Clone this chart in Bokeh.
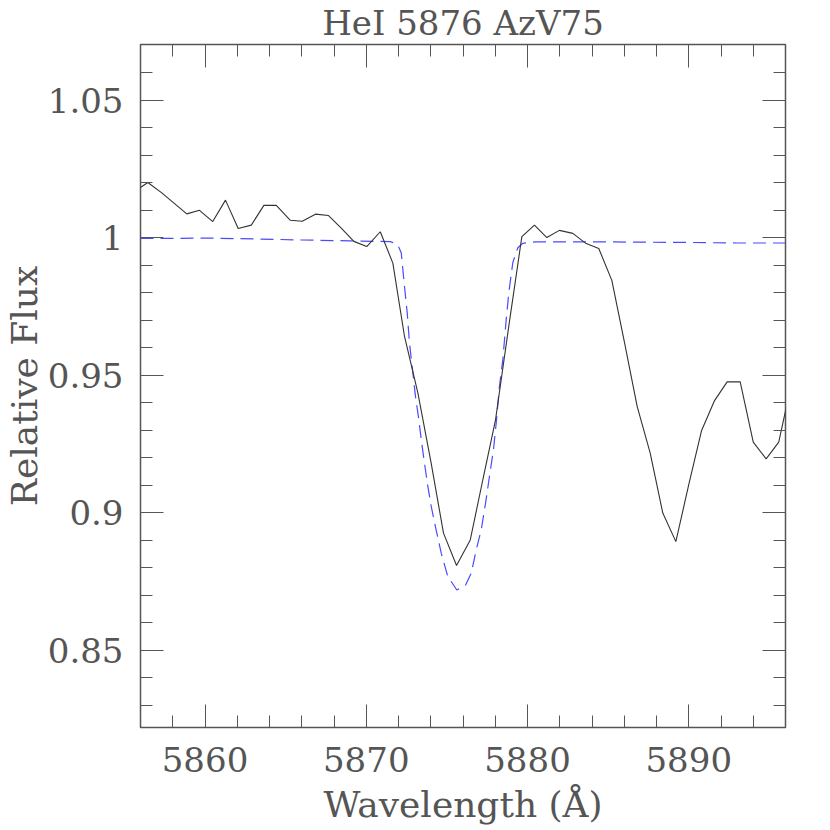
from bokeh.plotting import figure
from bokeh.models import FixedTicker, LinearAxis, CustomJSTickFormatter, Range1d
from bokeh.embed import file_html
from bokeh.resources import INLINE

# Observed spectrum (wavelength in Angstrom, relative flux)
obs_wave = [5856.00, 5856.45, 5857.28, 5858.87, 5859.66, 5860.48, 5861.27, 5862.06,
            5862.87, 5863.65, 5864.42, 5865.28, 5866.03, 5866.85, 5867.66, 5868.45,
            5869.23, 5870.03, 5870.87, 5871.65, 5872.37, 5873.20, 5874.02, 5874.79,
            5875.60, 5876.45, 5877.23, 5878.02, 5878.84, 5879.65, 5880.43, 5881.20,
            5881.98, 5882.81, 5883.64, 5884.42, 5885.23, 5886.02, 5886.80, 5887.61,
            5888.39, 5889.20, 5890.00, 5890.79, 5891.60, 5892.38, 5893.19, 5894.00,
            5894.80, 5895.58, 5896.37]
obs_flux = [1.0183, 1.0201, 1.0165, 1.0087, 1.0100, 1.0059, 1.0137, 1.0034,
            1.0046, 1.0118, 1.0118, 1.0064, 1.0060, 1.0086, 1.0081, 1.0035,
            0.9987, 0.9968, 1.0022, 0.9908, 0.9642, 0.9436, 0.9182, 0.8926,
            0.8808, 0.8901, 0.9120, 0.9339, 0.9679, 1.0004, 1.0046, 1.0001,
            1.0027, 1.0016, 0.9979, 0.9961, 0.9845, 0.9618, 0.9387, 0.9217,
            0.8999, 0.8895, 0.9102, 0.9298, 0.9408, 0.9476, 0.9476, 0.9257,
            0.9196, 0.9257, 0.9470]

# Model fit
model_wave = [5856.00, 5858.00, 5860.00, 5863.00, 5866.00, 5869.00, 5871.50, 5871.95,
              5872.17, 5872.37, 5872.54, 5872.68, 5872.89, 5873.05, 5873.26, 5873.41,
              5873.61, 5873.82, 5874.03, 5874.29, 5874.65, 5875.06, 5875.62, 5876.16,
              5876.51, 5876.82, 5877.13, 5877.40, 5877.64, 5877.89, 5878.06, 5878.26,
              5878.47, 5878.68, 5878.84, 5879.09, 5879.40, 5879.71, 5880.50, 5885.00,
              5890.00, 5893.00, 5896.00]
model_flux = [0.9998, 0.9998, 0.9999, 0.9996, 0.9992, 0.9989, 0.9986, 0.9975,
              0.9946, 0.9824, 0.9727, 0.9618, 0.9509, 0.9424, 0.9339, 0.9266,
              0.9181, 0.9096, 0.9023, 0.8950, 0.8853, 0.8768, 0.8719, 0.8737,
              0.8780, 0.8865, 0.8938, 0.9035, 0.9132, 0.9229, 0.9327, 0.9460,
              0.9557, 0.9703, 0.9800, 0.9910, 0.9964, 0.9980, 0.9985, 0.9985,
              0.9983, 0.9981, 0.9981]

x_major = [5860, 5870, 5880, 5890]
x_labels = ["5860", "5870", "5880", "5890"]
x_minor = [5856, 5858, 5860, 5862, 5864, 5866, 5868, 5870, 5872, 5874, 5876, 5878,
           5880, 5882, 5884, 5886, 5888, 5890, 5892, 5894, 5896]
y_major = [0.85, 0.9, 0.95, 1.0, 1.05]
y_labels = ["0.85", "0.9", "0.95", "1", "1.05"]
y_minor = [0.83, 0.84, 0.85, 0.86, 0.87, 0.88, 0.89, 0.90, 0.91, 0.92, 0.93, 0.94,
           0.95, 0.96, 0.97, 0.98, 0.99, 1.00, 1.01, 1.02, 1.03, 1.04, 1.05, 1.06]

FONT = "DejaVu Serif"
TXT = "#555555"

p = figure(frame_width=645, frame_height=683,
           x_range=Range1d(5856, 5896), y_range=Range1d(0.8219, 1.0703),
           output_backend="svg", toolbar_location=None,
           title="HeI 5876 AzV75",
           x_axis_label="Wavelength (Å)", y_axis_label="Relative Flux",
           min_border_left=130, min_border_top=44, min_border_right=33,
           min_border_bottom=90)
p.background_fill_color = "white"
p.border_fill_color = "white"
p.grid.visible = False
p.outline_line_color = "#555555"
p.outline_line_width = 1.5

p.title.text_font = FONT
p.title.text_font_size = "34px"
p.title.text_font_style = "normal"
p.title.text_color = TXT
p.title.align = "center"
p.title.standoff = 0
p.title.vertical_align = "top"

def style_axis(ax):
    ax.axis_line_color = None
    ax.major_tick_in = 23
    ax.major_tick_out = 0
    ax.minor_tick_in = 12
    ax.minor_tick_out = 0
    ax.major_tick_line_color = "#555555"
    ax.minor_tick_line_color = "#555555"
    ax.major_tick_line_width = 1
    ax.minor_tick_line_width = 1
    ax.major_label_text_font = FONT
    ax.major_label_text_font_size = "34px"
    ax.major_label_text_color = TXT
    ax.axis_label_text_font = FONT
    ax.axis_label_text_font_size = "36px"
    ax.axis_label_text_font_style = "normal"
    ax.axis_label_text_color = TXT

xt = FixedTicker(ticks=x_major, minor_ticks=x_minor)
yt = FixedTicker(ticks=y_major, minor_ticks=y_minor)

for ax in p.xaxis:
    ax.ticker = xt
    ax.major_label_overrides = dict(zip(x_major, x_labels))
    style_axis(ax)
    ax.major_label_standoff = 19
    ax.axis_label_standoff = 9
for ax in p.yaxis:
    ax.ticker = yt
    ax.major_label_overrides = dict(zip(y_major, y_labels))
    style_axis(ax)
    ax.major_label_standoff = 17
    ax.axis_label_standoff = 0

blank = CustomJSTickFormatter(code="return ''")
top = LinearAxis(ticker=FixedTicker(ticks=x_major, minor_ticks=x_minor), formatter=blank)
style_axis(top)
top.major_label_standoff = 0
p.add_layout(top, "above")
right = LinearAxis(ticker=FixedTicker(ticks=y_major, minor_ticks=y_minor), formatter=blank)
style_axis(right)
right.major_label_standoff = 0
p.add_layout(right, "right")

p.line(model_wave, model_flux, line_color="#4a4aff", line_width=1.2, line_dash="13 7")
p.line(obs_wave, obs_flux, line_color="#333333", line_width=1.1)

open("out.html", "w").write(file_html(p, INLINE))
